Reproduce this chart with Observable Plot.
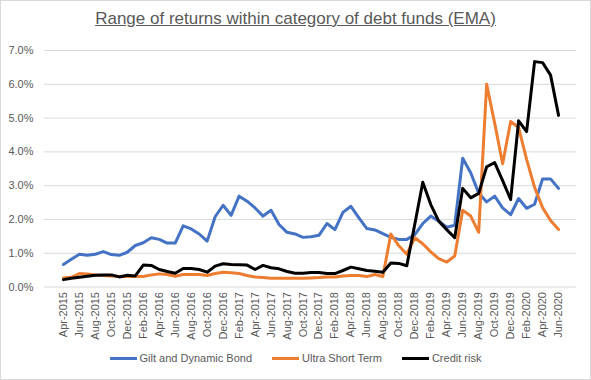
<!DOCTYPE html>
<html>
<head>
<meta charset="utf-8">
<script src="https://cdn.jsdelivr.net/npm/d3@7"></script>
<script src="https://cdn.jsdelivr.net/npm/@observablehq/plot@0.6"></script>
<style>
  html, body { margin: 0; padding: 0; background: #fff; }
  #chart { position: relative; width: 591px; height: 380px; box-sizing: border-box; border: 1px solid #d9d9d9; font-family: "Liberation Sans", Arial, sans-serif; color: #595959; overflow: hidden; }
  #title { position: absolute; left: 0; width: 589px; top: 8px; text-align: center; font-size: 17px; text-decoration: underline; color: #595959; }
  #plot { position: absolute; left: -1px; top: 29px; }
  #legend { position: absolute; top: 351px; left: 0; width: 589px; display: flex; justify-content: center; align-items: center; font-size: 11px; color: #595959; }
  .item { display: flex; align-items: center; margin: 0 10px; }
  .sw { width: 27px; height: 3px; margin-right: 3px; }
</style>
</head>
<body>
<div id="chart">
  <div id="title">Range of returns within category of debt funds (EMA)</div>
  <div id="plot"></div>
  <div id="legend"></div>
</div>
<script>
const seriesNames = ["Gilt and Dynamic Bond", "Ultra Short Term", "Credit risk"];
const seriesColors = ["#4472C4", "#ED7D31", "#000000"];

// Monthly categories Apr-2015 .. Jun-2020
const months = d3.utcMonths(new Date(Date.UTC(2015, 3, 1)), new Date(Date.UTC(2020, 6, 1)))
  .map(d => d3.utcFormat("%b-%Y")(d));
const xTickLabels = months.filter((d, i) => i % 2 === 0);
const yTicks = [0, 0.01, 0.02, 0.03, 0.04, 0.05, 0.06, 0.07];

// values in percent
const gilt = [0.67,0.82,0.97,0.94,0.97,1.05,0.96,0.94,1.03,1.23,1.31,1.46,1.41,1.30,1.30,1.81,1.72,1.57,1.36,2.08,2.42,2.12,2.69,2.54,2.34,2.10,2.27,1.85,1.62,1.57,1.47,1.49,1.53,1.88,1.70,2.21,2.39,2.05,1.73,1.69,1.58,1.47,1.41,1.41,1.55,1.88,2.10,1.95,1.77,1.83,3.81,3.38,2.78,2.52,2.69,2.34,2.14,2.62,2.33,2.45,3.20,3.20,2.92];
const ultraShort = [0.27,0.29,0.40,0.39,0.36,0.34,0.33,0.31,0.32,0.31,0.31,0.36,0.39,0.37,0.32,0.37,0.37,0.37,0.34,0.40,0.44,0.42,0.40,0.34,0.30,0.28,0.26,0.26,0.26,0.26,0.26,0.27,0.28,0.30,0.30,0.33,0.34,0.34,0.31,0.37,0.31,1.57,1.22,0.97,1.46,1.28,1.04,0.84,0.74,0.92,2.27,2.10,1.62,6.00,4.85,3.65,4.90,4.72,3.78,2.95,2.35,1.97,1.70];
const creditRisk = [0.22,0.26,0.29,0.32,0.35,0.36,0.36,0.30,0.35,0.33,0.65,0.64,0.52,0.46,0.41,0.55,0.55,0.52,0.44,0.62,0.69,0.67,0.66,0.65,0.52,0.64,0.57,0.54,0.46,0.41,0.41,0.43,0.43,0.40,0.40,0.49,0.59,0.54,0.49,0.47,0.44,0.71,0.70,0.63,1.86,3.10,2.44,1.95,1.70,1.46,2.92,2.64,2.77,3.56,3.68,3.15,2.59,4.92,4.60,6.67,6.64,6.27,5.08];

const seriesValues = [gilt, ultraShort, creditRisk];
const rows = [];
seriesNames.forEach((s, k) => {
  seriesValues[k].forEach((v, i) => rows.push({month: months[i], series: s, value: v / 100}));
});

const chart = Plot.plot({
  width: 591,
  height: 320,
  marginLeft: 44,
  marginRight: 14,
  marginTop: 20,
  marginBottom: 63,
  style: {fontFamily: "Liberation Sans, Arial, sans-serif", fontSize: "11px", color: "#595959", background: "transparent", overflow: "visible"},
  x: {type: "point", domain: months, padding: 0.5, label: null},
  y: {domain: [0, 0.07], label: null},
  color: {domain: seriesNames, range: seriesColors},
  marks: [
    Plot.gridY(yTicks, {stroke: "#d9d9d9", strokeOpacity: 1, strokeWidth: 1}),
    Plot.axisY(yTicks, {tickSize: 0, tickPadding: 11, tickFormat: d3.format(".1%"), fill: "#595959", label: null}),
    Plot.axisX(xTickLabels, {tickSize: 0, tickPadding: 5, tickRotate: -90, fill: "#595959", label: null}),
    Plot.lineY(rows, {x: "month", y: "value", stroke: "series", z: "series", strokeWidth: 3, strokeLinejoin: "round"})
  ]
});
document.getElementById("plot").appendChild(chart);

const legend = document.getElementById("legend");
seriesNames.forEach((s, k) => {
  const item = document.createElement("div");
  item.className = "item";
  const sw = document.createElement("div");
  sw.className = "sw";
  sw.style.background = seriesColors[k];
  const t = document.createElement("span");
  t.textContent = s;
  item.appendChild(sw);
  item.appendChild(t);
  legend.appendChild(item);
});
</script>
</body>
</html>
